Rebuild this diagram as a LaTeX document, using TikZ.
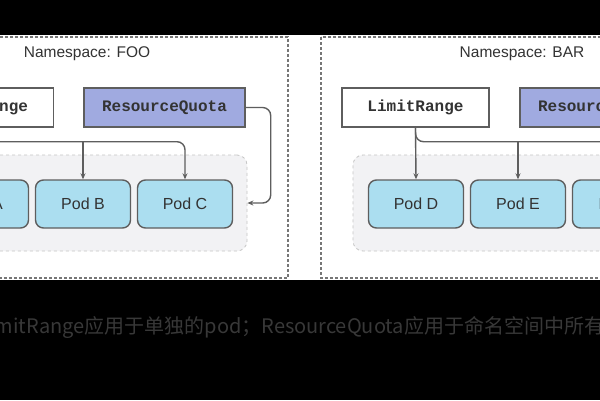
\documentclass[tikz,border=0pt]{standalone}
\usepackage{fontspec}
\setmainfont{Liberation Sans}
\setmonofont{Liberation Mono}
\newfontfamily\cjk{Noto Sans CJK SC}
\usepackage{tikz}
\usetikzlibrary{arrows.meta}
\definecolor{podblue}{HTML}{ABDEF0}
\definecolor{rqblue}{HTML}{A0AAE0}
\definecolor{grpgray}{HTML}{F2F2F4}
\definecolor{linegray}{HTML}{5E5E5E}
\definecolor{txtgray}{HTML}{333333}
\definecolor{capgray}{HTML}{383838}

\begin{document}
\begin{tikzpicture}[x=1pt, y=-1pt,
  ns/.style={draw=linegray!85, densely dashed, line width=1.3pt},
  grp/.style={draw=gray!45, dashed, fill=grpgray, rounded corners=10pt, line width=0.8pt},
  nslabel/.style={text=txtgray, font=\fontsize{15.5}{18}\selectfont},
  pod/.style={draw=linegray, fill=podblue, rounded corners=8pt, line width=1.4pt,
    minimum width=95pt, minimum height=48pt, text=txtgray, font=\fontsize{16}{19}\selectfont},
  lrbox/.style={draw=linegray, fill=white, line width=1.4pt, minimum width=147pt,
    minimum height=39pt, text=txtgray, font=\ttfamily\bfseries\fontsize{16}{19}\selectfont},
  rqbox/.style={lrbox, fill=rqblue, minimum width=161pt},
  conn/.style={draw=linegray, line width=1.4pt, -{Stealth[length=6pt,width=5pt]}},
  caption/.style={text=capgray, font=\cjk\fontsize{20}{24}\selectfont}]
\clip (0,0) rectangle (600,400);
\fill[black] (0,0) rectangle (600,400);
\fill[white] (0,35) rectangle (600,280);

\draw[ns] (-115,37) rectangle (288,278);
\draw[ns] (321,37) rectangle (725,278);
\node[nslabel] (lblFoo) at (87,54) {Namespace: FOO};
\node[nslabel] (lblBar) at (522,54) {Namespace: BAR};

\node[grp, minimum width=400pt, minimum height=96pt] (grpFoo) at (47,203) {};
\node[grp, minimum width=400pt, minimum height=96pt] (grpBar) at (553,203) {};

\node[lrbox] (lrFoo) at (-20,107.5) {LimitRange};
\node[rqbox] (rqFoo) at (164.5,107.5) {ResourceQuota};
\node[pod] (podA) at (-19,204) {Pod A};
\node[pod] (podB) at (83,204) {Pod B};
\node[pod] (podC) at (185,204) {Pod C};

\node[lrbox] (lrBar) at (415.5,107.5) {LimitRange};
\node[rqbox] (rqBar) at (600.5,107.5) {ResourceQuota};
\node[pod] (podD) at (416,204) {Pod D};
\node[pod] (podE) at (518,204) {Pod E};
\node[pod] (podF) at (620,204) {Pod F};

\coordinate (jFoo) at ([yshift=-14pt]lrFoo.south);
\draw[conn] (lrFoo.south) -- (podA.north);
\draw[conn, rounded corners=8pt] (lrFoo.south) -- (jFoo) -| (podC.north);
\draw[conn] (jFoo -| podB.north) -- (podB.north);
\draw[conn, rounded corners=8pt] (rqFoo.east) -- ++(25,0) |- (grpFoo.east);

\coordinate (jBar) at ([yshift=-14pt]lrBar.south);
\draw[conn] (lrBar.south) -- (podD.north);
\draw[conn, rounded corners=8pt] (lrBar.south) -- (jBar) -| (podF.north);
\draw[conn] (jBar -| podE.north) -- (podE.north);
\draw[conn, rounded corners=8pt] (rqBar.east) -- ++(25,0) |- (grpBar.east);

\node[caption, anchor=base west] (cap) at (-25,333) {LimitRange应用于单独的pod；ResourceQuota应用于命名空间中所有pod};
\end{tikzpicture}
\end{document}
